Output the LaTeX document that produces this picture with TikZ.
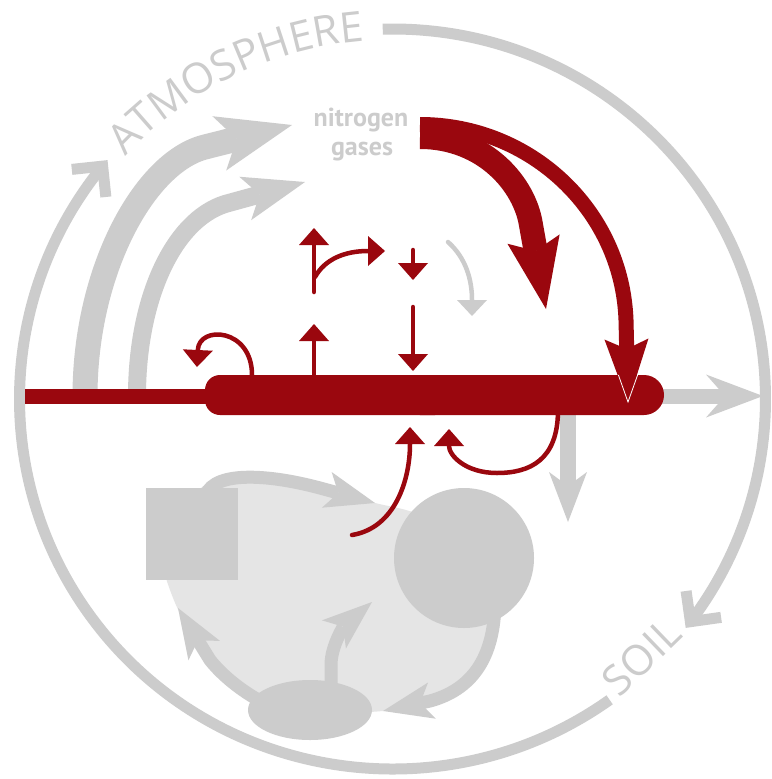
\documentclass[tikz,border=0pt]{standalone}
\usepackage{fontspec}
\usetikzlibrary{arrows.meta,decorations.text,calc,shapes.geometric}
\newfontfamily\lblfont{Open Sans}
\newfontfamily\gasfont{PT Sans}
\definecolor{nred}{HTML}{9A070E}
\definecolor{ngray}{HTML}{CCCCCC}
\definecolor{nlight}{HTML}{E5E5E5}
\begin{document}
\begin{tikzpicture}[x=1pt,y=1pt,
  ring/.style={draw=ngray, line width=11pt},
  chev/.style={draw=ngray, line width=11pt, line join=miter, line cap=butt},
  thinred/.style={draw=nred, line width=4.5pt, line cap=round, -{Triangle[length=17pt,width=30pt,line width=0pt]}},
  thingray/.style={draw=ngray, line width=4.5pt, line cap=round, -{Triangle[length=16pt,width=30pt,line width=0pt]}},
  soilarrow/.style={draw=ngray, line width=13pt, -{Stealth[length=50pt,width=37pt,inset=12pt,line width=0pt]}},
  shapefill/.style={fill=ngray, draw=none, inner sep=0pt},
  gastext/.style={text=ngray, font=\gasfont\bfseries\fontsize{26}{30}\selectfont, anchor=base, inner sep=0pt},
  ringtext/.style={text=ngray, font=\lblfont\fontsize{42}{50}\selectfont, inner sep=0pt},
]
\useasboundingbox (0,0) rectangle (771,-779);
\fill[white] (0,0) rectangle (771,-779);
\coordinate (C) at (392.5,-399);

% ---------- outer ring ----------
\draw[ring] ($(C)+(91.5:373 and 370)$) arc[start angle=91.5, end angle=-37, x radius=373, y radius=370];
\coordinate (tipA) at ($(C)+(-37:373 and 370)$);
\draw[chev] ($(tipA)+(98:31)$) -- (tipA) -- ($(tipA)+(8:31)$);
\draw[ring] ($(C)+(-54.4:373 and 370)$) arc[start angle=-54.4, end angle=-219, x radius=373, y radius=370];
\coordinate (tipB) at ($(C)+(141:373 and 370)$);
\draw[chev] ($(tipB)+(186:31)$) -- (tipB) -- ($(tipB)+(276:31)$);

\coordinate (atmS) at ($(C)+(140:362 and 359)$);
\path[decorate, decoration={text along path, text align=center,
  text={|\lblfont\fontsize{42}{50}\selectfont\color{ngray}|ATMOSPHERE}}]
  (atmS) arc[start angle=140, end angle=92, x radius=362, y radius=359];
\node[ringtext, rotate=44, anchor=base] (soil) at ($(C)+(-46.2:375 and 372)$) {SOIL};

% ---------- gray arrows to atmosphere ----------
\draw[draw=ngray, line width=25pt, -{Stealth[length=75pt,width=56pt,inset=18pt,line width=0pt]}]
  (85,-396) .. controls (85,-270) and (145,-162) .. (205,-147) -- (292,-125);
\draw[draw=ngray, line width=18pt, -{Stealth[length=62pt,width=45pt,inset=15pt,line width=0pt]}]
  (137,-396) .. controls (137,-300) and (172.6,-220.8) .. (225,-204) -- (305,-182);

% gray arrows leaving the bar
\draw[draw=ngray, line width=15pt, -{Stealth[length=57pt,width=43pt,inset=19pt,line width=0pt]}]
  (650,-396) -- (763,-396);
\draw[draw=ngray, line width=16pt, -{Stealth[length=50pt,width=38pt,inset=14pt,line width=0pt]}]
  (568,-400) -- (568,-522);

% ---------- red bar ----------
\fill[nred] (25,-388.5) rectangle (215,-403.5);
\fill[nred, rounded corners=15pt] (205,-375) rectangle (450,-415);
\fill[nred, rounded corners=20pt] (400,-375) rectangle (664,-415);

% ---------- nitrogen gases ----------
\node[gastext] (gas1) at (361,-126) {nitrogen};
\node[gastext] (gas2) at (362,-155) {gases};

% ---------- big red arrows ----------
\draw[nred, line width=15pt, -{Stealth[length=64pt,width=44pt,inset=10pt,line width=0pt]}]
  (420,-124.5) .. controls (530,-124.5) and (622,-210) .. (626,-320) -- (628,-403);
\draw[nred, line width=24pt, -{Stealth[length=71pt,width=53pt,inset=12pt,line width=0pt]}]
  (420,-137) .. controls (485,-137) and (525,-185) .. (531,-225) -- (546,-309);
\draw[white, line width=0.8pt] (618.4,-375) -- (628,-402) -- (637.6,-375);

% ---------- small arrows above bar ----------
\draw[thinred] (252,-375) .. controls (252,-328) and (199,-325) .. (197,-367);
\draw[thinred] (314,-377) -- (314,-324);
\draw[thinred] (314,-292) -- (314,-228);
\draw[thinred] (315,-277) .. controls (325,-259) and (345,-251) .. (385,-251);
\draw[thinred] (413,-250) -- (413,-280);
\draw[thinred] (413,-307) -- (413,-371);
\draw[thingray] (448,-242) .. controls (466,-258) and (472,-280) .. (472,-316);

% ---------- soil ----------
\fill[nlight] plot[smooth cycle] coordinates {(170,-520) (205,-485) (240,-474) (290,-481) (330,-491) (375,-503) (415,-513) (470,-540) (495,-615) (485,-660) (460,-688) (430,-701) (383,-711) (310,-712) (250,-693) (215,-662) (190,-632) (176,-605) (166,-578) (160,-550)};

\draw[soilarrow] (205,-500) .. controls (207,-472) and (260,-472) .. (320,-488) -- (375,-503);
\draw[soilarrow] (262,-702) .. controls (240,-690) and (222,-675) .. (210,-660) -- (178,-608);
\draw[soilarrow] (331,-700) -- (331,-665) .. controls (331,-645) and (345,-625) .. (372,-602);
\draw[soilarrow] (495,-600) .. controls (495,-660) and (470,-690) .. (430,-701) -- (383,-711);

\node[shapefill, minimum size=92pt] (sq) at (192,-534) {};
\node[shapefill, circle, minimum size=140pt] (ci) at (464,-558) {};
\node[shapefill, ellipse, minimum width=124pt, minimum height=60pt] (el) at (310,-710) {};

% ---------- red arrows below bar ----------
\draw[thinred] (352,-535) .. controls (395,-528) and (410,-480) .. (410,-427);
\draw[thinred] (558,-410) .. controls (558,-460) and (530,-473) .. (497,-473) .. controls (465,-473) and (449,-455) .. (449,-429);
\end{tikzpicture}
\end{document}
